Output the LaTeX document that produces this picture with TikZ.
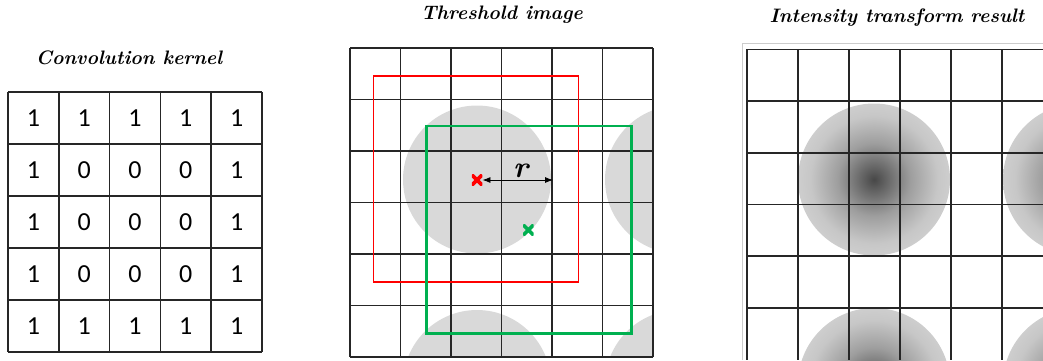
\documentclass[tikz,border=0pt]{standalone}
\usepackage{fontspec}
\newfontfamily\digitfont{Carlito}
\usetikzlibrary{arrows.meta}
\definecolor{mkred}{HTML}{FF0000}
\definecolor{mkgreen}{HTML}{00B050}
\definecolor{disk}{HTML}{D9D9D9}
\pgfdeclareradialshading{blob}{\pgfpoint{0bp}{0bp}}{color(0bp)=(black!72); color(3.5bp)=(black!62); color(12bp)=(black!38); color(21bp)=(black!22); color(30bp)=(black!16); color(36bp)=(black!15); color(100bp)=(black!15)}

\begin{document}
\begin{tikzpicture}[x=1pt, y=-1pt, >={Latex[length=8pt,width=6pt]},
  title/.style={font=\fontsize{19.5}{22}\selectfont\bfseries\itshape},
  cellnum/.style={font=\digitfont\fontsize{26}{28}\selectfont},
  gridline/.style={line width=1.6pt, black!85},
  crossmark/.style={minimum size=10.5pt, inner sep=0pt,
    path picture={\draw[line width=3.6pt]
      (path picture bounding box.north west) -- (path picture bounding box.south east)
      (path picture bounding box.south west) -- (path picture bounding box.north east);}}]
\useasboundingbox (0,0) rectangle (1043,360);

% titles
\node[title] (tkern) at (129,58) {Convolution kernel};
\node[title] (tthr) at (502,15) {Threshold image};
\node[title] (tint) at (897,18) {Intensity transform result};

% kernel
\foreach \i in {0,...,5} {
  \draw[gridline] (8+50.8*\i,92) -- (8+50.8*\i,352);
  \draw[gridline] (8,92+52*\i) -- (262,92+52*\i);
}
\foreach \row [count=\r from 0] in {{1,1,1,1,1},{1,0,0,0,1},{1,0,0,0,1},{1,0,0,0,1},{1,1,1,1,1}}
  \foreach \v [count=\c from 0] in \row
    \node[cellnum] (k\r\c) at (33.4+50.8*\c,118+52*\r) {\v};

% threshold image
\begin{scope}
\clip (350,48) rectangle (653,357);
\foreach \cx/\cy in {477/179.5,679/179.5,477/384,679/384}
  \fill[disk] (\cx,\cy) circle[radius=74];
\end{scope}
\foreach \i in {0,...,6} {
  \draw[gridline] (350+50.5*\i,48) -- (350+50.5*\i,357);
  \draw[gridline] (350,48+51.5*\i) -- (653,48+51.5*\i);
}
\draw[mkred, line width=1.6pt] (373.3,75.7) rectangle (578.3,281.7);
\draw[mkgreen, line width=2.6pt] (426.7,126) rectangle (631.7,333.3);
\node[crossmark, mkred] (rx) at (477,180) {};
\node[crossmark, mkgreen] (gx) at (528.3,230) {};
\coordinate (rend) at (553,180);
\draw[<->, line width=0.8pt] (rx.east) -- (rend)
  node[midway, above=-1pt, xshift=3pt, font=\fontsize{30}{32}\selectfont\bfseries\itshape] (rlab) {r};

% intensity result
\draw[black!20, line width=0.8pt] (742,360) -- (742,43.3) -- (1043,43.3);
\begin{scope}
\clip (746.7,49.3) rectangle (1043,360);
\foreach \cx/\cy in {874/179.5,874/384,1079/179.5,1079/384}
  \shade[shading=blob] (\cx,\cy) circle[radius=76];
\end{scope}
\foreach \i in {0,...,5} {
  \draw[gridline] (746.7+51*\i,49.3) -- (746.7+51*\i,360);
  \draw[gridline] (746.7,49.3+51.7*\i) -- (1043,49.3+51.7*\i);
}
\end{tikzpicture}
\end{document}
